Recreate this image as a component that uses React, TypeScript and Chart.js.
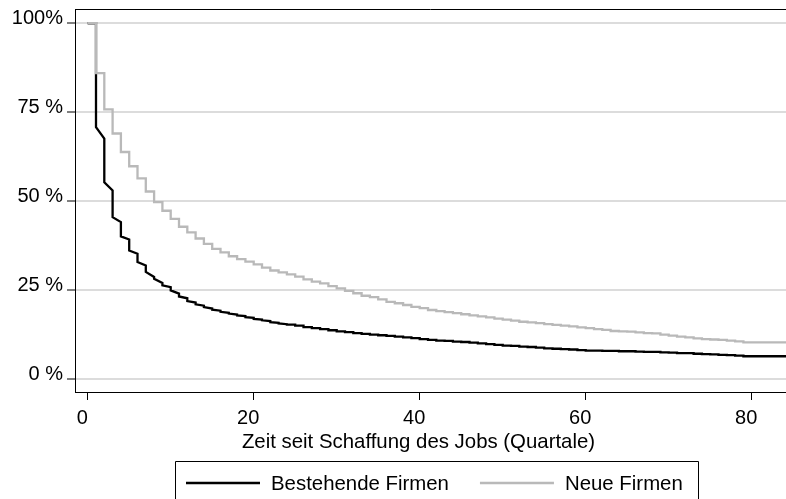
import React, { useEffect, useRef } from "react";
import { Chart, registerables } from "chart.js";

Chart.register(...registerables);

// ---------- data ----------
const quarters: number[] = [
  0, 1, 2, 3, 4, 5, 6, 7, 8, 9, 10, 11, 12, 13, 14, 15, 16, 17, 18, 19, 20,
  21, 22, 23, 24, 25, 26, 27, 28, 29, 30, 31, 32, 33, 34, 35, 36, 37, 38, 39, 40,
  41, 42, 43, 44, 45, 46, 47, 48, 49, 50, 51, 52, 53, 54, 55, 56, 57, 58, 59, 60,
  61, 62, 63, 64, 65, 66, 67, 68, 69, 70, 71, 72, 73, 74, 75, 76, 77, 78, 79, 80,
  81, 82, 83, 84,
];

// Bestehende Firmen: share surviving right after the drop at each quarter
const bestehendeStart: number[] = [
  100, 70.8, 55.3, 45.5, 40.1, 36.1, 32.9, 30.1, 28.2, 26.3, 24.9,
  23.2, 21.9, 21.0, 20.2, 19.5, 18.9, 18.4, 17.9, 17.4, 16.9,
  16.5, 16.0, 15.6, 15.3, 15.0, 14.6, 14.3, 14.0, 13.7, 13.4,
  13.2, 12.9, 12.7, 12.5, 12.3, 12.1, 11.9, 11.7, 11.5, 11.2,
  11.0, 10.8, 10.7, 10.5, 10.4, 10.2, 10.0, 9.8, 9.6, 9.4,
  9.3, 9.1, 9.0, 8.8, 8.6, 8.5, 8.4, 8.3, 8.1, 8.0,
  8.0, 7.9, 7.9, 7.8, 7.8, 7.7, 7.6, 7.6, 7.5, 7.4,
  7.3, 7.3, 7.1, 7.0, 6.9, 6.8, 6.7, 6.6, 6.4, 6.4,
  6.4, 6.4, 6.4, 6.4,
];
// Bestehende Firmen: share just before the next quarter's drop (early quarters)
const bestehendeEnd: number[] = [
  100, 67.6, 53.0, 44.1, 39.2, 35.2, 31.9, 28.7, 27.0, 25.8, 24.0,
  22.7, 21.5, 20.6, 19.8, 19.2, 18.6, 18.1, 17.7, 17.2, 16.7,
  16.3, 15.8, 15.4,
];

// Neue Firmen
const neueFirmen: number[] = [
  100, 86.0, 75.8, 69.0, 63.8, 59.8, 56.4, 52.7, 49.7, 47.3, 45.0,
  42.8, 41.2, 39.5, 38.0, 36.6, 35.6, 34.5, 33.7, 33.0, 32.2,
  31.3, 30.5, 30.0, 29.4, 28.8, 28.0, 27.4, 26.9, 26.1, 25.5,
  24.8, 24.1, 23.4, 23.0, 22.4, 21.7, 21.3, 20.8, 20.3, 19.9,
  19.4, 19.1, 18.8, 18.5, 18.2, 17.9, 17.6, 17.3, 17.0, 16.7,
  16.4, 16.1, 15.9, 15.7, 15.4, 15.2, 15.0, 14.8, 14.5, 14.3,
  14.0, 13.8, 13.5, 13.4, 13.3, 13.1, 12.9, 12.8, 12.5, 12.2,
  11.9, 11.7, 11.4, 11.2, 11.1, 11.0, 10.8, 10.6, 10.3, 10.3,
  10.3, 10.3, 10.3, 10.3,
];

const xTicks: number[] = [0, 20, 40, 60, 80];
const yTicks: number[] = [0, 25, 50, 75, 100];
const yTickLabels: string[] = ["0 %", "25 %", "50 %", "75 %", "100%"];
const seriesLabels: string[] = ["Bestehende Firmen", "Neue Firmen"];
const xTitle = "Zeit seit Schaffung des Jobs (Quartale)";

// ---------- styling ----------
const FONT = '"Liberation Sans", Arial, Helvetica, sans-serif';
const BLACK = "#000000";
const GRAY = "#b9b9b9";

export default function App() {
  const canvasRef = useRef<HTMLCanvasElement | null>(null);

  useEffect(() => {
    const canvas = canvasRef.current;
    if (!canvas) return;

    const lastX = quarters[quarters.length - 1] + 1;

    const blackPts: { x: number; y: number }[] = [];
    quarters.forEach((q, i) => {
      const start = bestehendeStart[i];
      const end = i < bestehendeEnd.length ? bestehendeEnd[i] : start;
      blackPts.push({ x: q, y: start });
      blackPts.push({ x: i + 1 < quarters.length ? quarters[i + 1] : lastX, y: end });
    });

    const grayPts: { x: number; y: number }[] = quarters.map((q, i) => ({ x: q, y: neueFirmen[i] }));
    grayPts.push({ x: lastX, y: neueFirmen[neueFirmen.length - 1] });

    const decor = {
      id: "decor",
      afterDraw(chart: any) {
        const { ctx, chartArea: a } = chart;
        ctx.save();
        // top frame line
        ctx.strokeStyle = BLACK;
        ctx.lineWidth = 1;
        ctx.beginPath();
        ctx.moveTo(a.left, a.top + 0.5);
        ctx.lineTo(a.right, a.top + 0.5);
        ctx.stroke();

        // x axis title
        ctx.fillStyle = BLACK;
        ctx.font = `20.4px ${FONT}`;
        ctx.textAlign = "center";
        ctx.textBaseline = "alphabetic";
        ctx.fillText(xTitle, 418.5, 447.5);

        // legend items
        const boxL = 175.5;
        const boxT = 461.5;
        const lineY = 483;
        const textY = 490.3;
        let x = 186;
        chart.data.datasets.forEach((ds: any) => {
          ctx.strokeStyle = ds.borderColor;
          ctx.lineWidth = 2.5;
          ctx.beginPath();
          ctx.moveTo(x, lineY);
          ctx.lineTo(x + 74, lineY);
          ctx.stroke();
          const tx = x + 85;
          ctx.fillStyle = BLACK;
          ctx.textAlign = "left";
          ctx.fillText(ds.label, tx, textY);
          x = tx + ctx.measureText(ds.label).width + 31;
        });
        const boxR = Math.round(x - 31 + 15) + 0.5;

        // legend frame (bottom is cut off by the picture edge)
        ctx.strokeStyle = BLACK;
        ctx.lineWidth = 1;
        ctx.beginPath();
        ctx.moveTo(boxL, chart.height + 2);
        ctx.lineTo(boxL, boxT);
        ctx.lineTo(boxR, boxT);
        ctx.lineTo(boxR, chart.height + 2);
        ctx.stroke();
        ctx.restore();
      },
    };

    const chart = new Chart(canvas, {
      type: "line",
      data: {
        datasets: [
          {
            label: seriesLabels[0],
            data: blackPts,
            borderColor: BLACK,
            borderWidth: 2.3,
            pointRadius: 0,
            fill: false,
            tension: 0,
            order: 1,
          },
          {
            label: seriesLabels[1],
            data: grayPts,
            borderColor: GRAY,
            borderWidth: 2.3,
            pointRadius: 0,
            fill: false,
            stepped: true,
            tension: 0,
            order: 0,
          },
        ],
      },
      options: {
        animation: false,
        responsive: false,
        maintainAspectRatio: false,
        layout: { padding: { top: 9, left: 0, right: 0, bottom: 0 } },
        plugins: {
          legend: { display: false },
          tooltip: { enabled: false },
          title: { display: false },
        },
        scales: {
          x: {
            type: "linear",
            min: -1.53,
            max: 84.13,
            afterBuildTicks: (s: any) => {
              s.ticks = xTicks.map((v) => ({ value: v }));
            },
            afterFit: (s: any) => {
              s.height = 107;
              s.paddingLeft = 0;
              s.paddingRight = 0;
            },
            ticks: {
              color: BLACK,
              font: { family: FONT, size: 20 },
              padding: 6,
              labelOffset: -5.5,
              maxRotation: 0,
              autoSkip: false,
              callback: (v: any) => String(v),
            },
            grid: {
              drawOnChartArea: false,
              drawTicks: true,
              tickLength: 8,
              tickColor: BLACK,
              tickWidth: 1,
            },
            border: { display: true, color: BLACK, width: 1 },
          },
          y: {
            type: "linear",
            min: -3.65,
            max: 104.0,
            afterBuildTicks: (s: any) => {
              s.ticks = yTicks.map((v) => ({ value: v }));
            },
            afterFit: (s: any) => {
              s.width = 75;
              s.paddingTop = 0;
              s.paddingBottom = 0;
            },
            ticks: {
              color: BLACK,
              font: { family: FONT, size: 20 },
              padding: 4,
              labelOffset: -5,
              autoSkip: false,
              callback: (v: any) => {
                const i = yTicks.indexOf(Number(v));
                return i >= 0 ? yTickLabels[i] : "";
              },
            },
            grid: {
              drawOnChartArea: true,
              color: "#dcdcdc",
              lineWidth: 2,
              drawTicks: true,
              tickLength: 8,
              tickColor: BLACK,
              tickWidth: 1,
            },
            border: { display: true, color: BLACK, width: 1 },
          },
        },
      },
      plugins: [decor],
    } as any);

    return () => chart.destroy();
  }, []);

  return (
    <div style={{ position: "fixed", left: 0, top: 0, width: 786, height: 499, background: "#ffffff" }}>
      <canvas ref={canvasRef} width={786} height={499} style={{ display: "block", width: 786, height: 499 }} />
    </div>
  );
}
